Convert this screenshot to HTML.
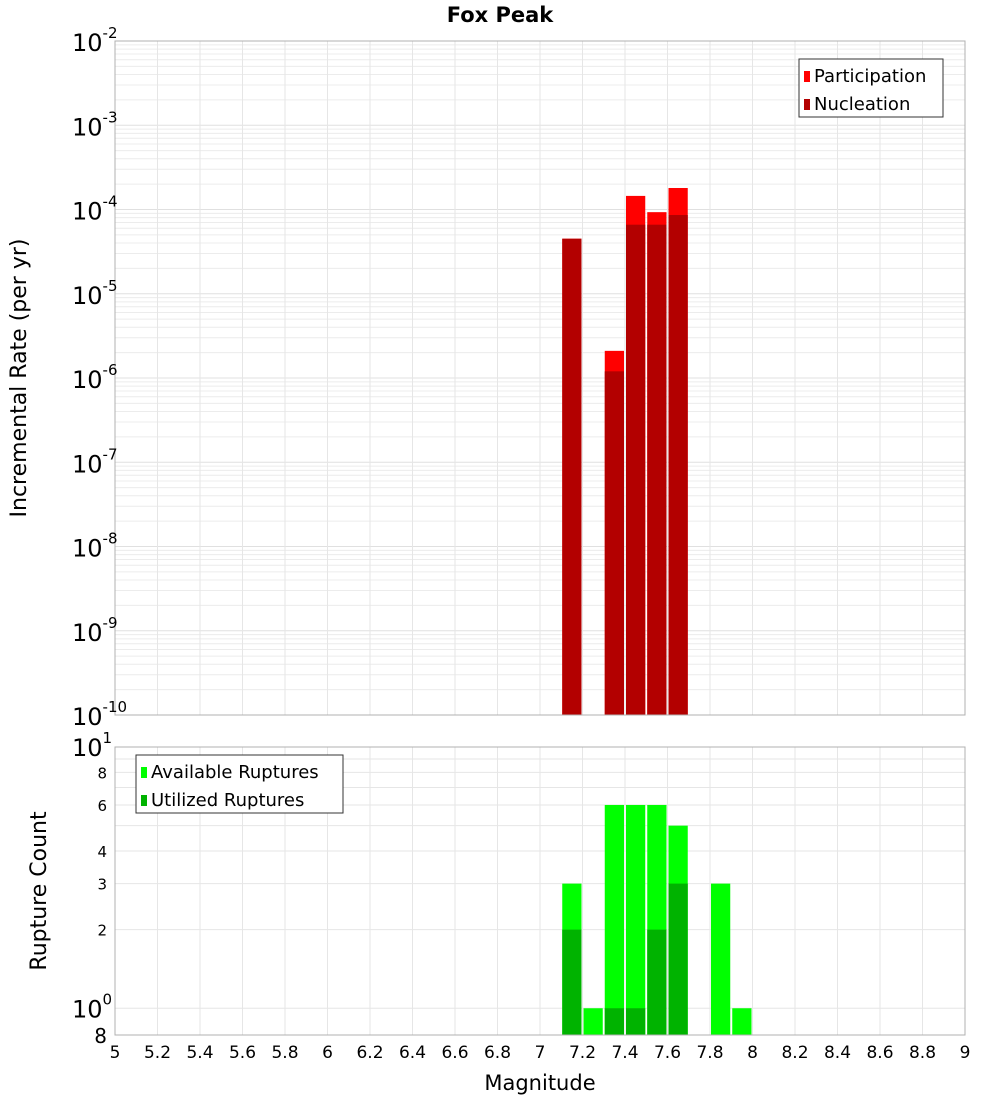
<!DOCTYPE html>
<html><head><meta charset="utf-8"><style>
body{margin:0;background:#fff;font-family:"DejaVu Sans","Liberation Sans",sans-serif}
svg text{font-family:"DejaVu Sans","Liberation Sans",sans-serif}
</style></head><body>
<svg id="chart" width="1000" height="1100" xmlns="http://www.w3.org/2000/svg">
<text x="500" y="22" text-anchor="middle" font-size="21" font-weight="bold">Fox Peak</text>
<g id="topg"></g><g id="botg"></g>
</svg>
<script>
const binCenters=[7.15,7.25,7.35,7.45,7.55,7.65,7.75,7.85,7.95];
const participation=[4.5e-5,0,2.1e-6,1.45e-4,9.3e-5,1.8e-4,0,0,0];
const nucleation=[4.5e-5,0,1.2e-6,6.6e-5,6.6e-5,8.6e-5,0,0,0];
const available=[3,1,6,6,6,5,0,3,1];
const utilized=[2,0,1,1,2,3,0,0,0];
const xTicks=[5,5.2,5.4,5.6,5.8,6,6.2,6.4,6.6,6.8,7,7.2,7.4,7.6,7.8,8,8.2,8.4,8.6,8.8,9];
const topExps=[-2,-3,-4,-5,-6,-7,-8,-9,-10];
const botTicks=[8,6,4,3,2];
const NS="http://www.w3.org/2000/svg";
function el(p,t,a,txt){const e=document.createElementNS(NS,t);for(const k in a)e.setAttribute(k,a[k]);if(txt!==undefined)e.textContent=txt;p.appendChild(e);return e;}
const X0=115,X1=965;
const xs=v=>X0+(v-5)/4*(X1-X0);
const T0=41,T1=715;
const ty=v=>T0+(-2-Math.log10(v))/8*(T1-T0);
const B0=747,B1=1035,BMIN=Math.log10(0.79);
const by=v=>B0+(1-Math.log10(v))/(1-BMIN)*(B1-B0);
const gTop=document.getElementById('topg'),gBot=document.getElementById('botg');
for(let e=-10;e<-2;e++)for(let m=1;m<10;m++){const y=ty(m*Math.pow(10,e));
 const g=el(gTop,'line',{x1:X0,x2:X1,y1:y,y2:y,stroke:m==1?'#e0e0e0':'#ececec','stroke-width':1});
 
 }
xTicks.forEach(v=>{const g=el(gTop,'line',{x1:xs(v),x2:xs(v),y1:T0,y2:T1,stroke:'#e6e6e6'});
 
 
 const h=el(gBot,'line',{x1:xs(v),x2:xs(v),y1:B0,y2:B1,stroke:'#e6e6e6'});
 
 });
for(let m=1;m<=10;m++){const y=by(m);const g=el(gBot,'line',{x1:X0,x2:X1,y1:y,y2:y,stroke:'#e6e6e6'});
 
 }
const bw=xs(5.1)-xs(5)-2;
binCenters.forEach((c,i)=>{const x=xs(c)-bw/2;
 if(participation[i]>0){const r=el(gTop,'rect',{x:x,y:ty(participation[i]),width:bw,height:T1-ty(participation[i]),fill:'#ff0000'});
  
  }
 if(nucleation[i]>0){const r=el(gTop,'rect',{x:x,y:ty(nucleation[i]),width:bw,height:T1-ty(nucleation[i]),fill:'#b30000'});
  
  }
 if(available[i]>0){const r=el(gBot,'rect',{x:x,y:by(available[i]),width:bw,height:B1-by(available[i]),fill:'#00ff00'});
  
  }
 if(utilized[i]>0){const r=el(gBot,'rect',{x:x,y:by(utilized[i]),width:bw,height:B1-by(utilized[i]),fill:'#00b300'});
  
  }
});
let f=el(gTop,'rect',{x:X0,y:T0,width:X1-X0,height:T1-T0,fill:'none',stroke:'#b0b0b0'});


f=el(gBot,'rect',{x:X0,y:B0,width:X1-X0,height:B1-B0,fill:'none',stroke:'#b0b0b0'});


topExps.forEach(e=>{const y=ty(Math.pow(10,e));
 const t=el(gTop,'text',{x:72,y:y+10,'font-size':24});
 
 
 t.textContent='10';el(t,'tspan',{dy:-13,'font-size':15},String(e));});
let t=el(gBot,'text',{x:72,y:by(10)+9,'font-size':24});


t.textContent='10';el(t,'tspan',{dy:-13,'font-size':15},'1');
t=el(gBot,'text',{x:72,y:by(1)+9,'font-size':24});


t.textContent='10';el(t,'tspan',{dy:-13,'font-size':15},'0');
botTicks.forEach(v=>{const tt=el(gBot,'text',{x:107,y:by(v)+6,'font-size':15,'text-anchor':'end'},String(v));
 
 });
t=el(gBot,'text',{x:107,y:B1+8,'font-size':20,'text-anchor':'end'},'8');


xTicks.forEach(v=>{const tt=el(gBot,'text',{x:xs(v),y:1058,'font-size':17,'text-anchor':'middle'},String(v));
 
 });
t=el(gBot,'text',{x:540,y:1090,'font-size':21,'text-anchor':'middle'},'Magnitude');


t=el(gTop,'text',{x:0,y:0,'font-size':22,'text-anchor':'middle',transform:'translate(26,378) rotate(-90)'},'Incremental Rate (per yr)');


t=el(gBot,'text',{x:0,y:0,'font-size':22,'text-anchor':'middle',transform:'translate(46,891) rotate(-90)'},'Rupture Count');


function legend(p,x,y,w,items,name){const g=el(p,'g',{});
 
 
 el(g,'rect',{x:x,y:y,width:w,height:58,fill:'#fff',stroke:'#333'});
 items.forEach((it,i)=>{el(g,'rect',{x:x+5,y:y+12+i*28,width:6,height:11,fill:it[1]});
  el(g,'text',{x:x+15,y:y+23+i*28,'font-size':18},it[0]);});}
legend(gTop,799,59,144,[['Participation','#ff0000'],['Nucleation','#b30000']],'top-legend');
legend(gBot,136,755,207,[['Available Ruptures','#00ff00'],['Utilized Ruptures','#00b300']],'bottom-legend');
</script>
</body></html>
